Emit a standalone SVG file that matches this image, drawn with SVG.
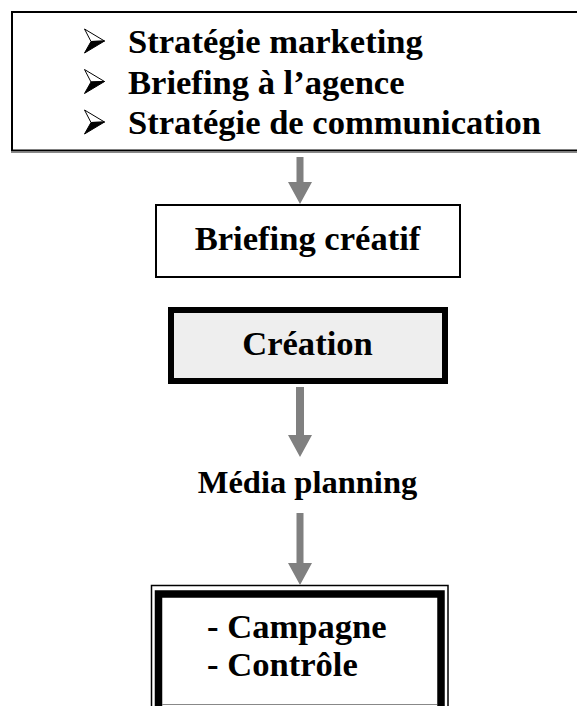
<svg xmlns="http://www.w3.org/2000/svg" width="577" height="706" viewBox="0 0 577 706">
  <style>
    .t { font-family: "Liberation Serif", "Times New Roman", serif; font-weight: bold; font-size: 34.6px; fill: #000; }
    .c { text-anchor: middle; }
    .arrow { fill: #808080; }
  </style>
  <defs>
    <g id="bullet">
      <polygon points="-9.5,-12 10.5,0 -3,0.5" fill="#fff" stroke="#000" stroke-width="1" stroke-linejoin="miter"/>
      <polygon points="-3,0.5 10.5,0 -9.5,12" fill="#000" stroke="#000" stroke-width="1"/>
    </g>
  </defs>
  <rect width="577" height="706" fill="#fff"/>

  <g id="node-top">
    <rect x="12" y="12" width="580" height="138.5" fill="#fff" stroke="#000" stroke-width="2"/>
    <line x1="11" y1="152.5" x2="577" y2="152.5" stroke="#888" stroke-width="1"/>
    <use href="#bullet" x="94" y="41"/>
    <use href="#bullet" x="94" y="81.5"/>
    <use href="#bullet" x="94" y="122"/>
    <text class="t" x="128" y="53">Stratégie marketing</text>
    <text class="t" x="128" y="93.5">Briefing à l’agence</text>
    <text class="t" x="128" y="134">Stratégie de communication</text>
  </g>

  <g id="node-briefing">
    <rect x="156" y="205" width="304" height="72" fill="#fff" stroke="#000" stroke-width="2"/>
    <text class="t c" x="307.5" y="250">Briefing créatif</text>
  </g>

  <g id="node-creation">
    <rect x="171" y="310" width="274" height="71" fill="#eeeeee" stroke="#000" stroke-width="6"/>
    <text class="t c" x="307.5" y="355">Création</text>
  </g>

  <g id="node-media">
    <text class="t c" x="307.5" y="493" style="font-size:32.5px">Média planning</text>
  </g>

  <g id="node-final">
    <rect x="151.5" y="585.5" width="296.5" height="200" fill="#fff" stroke="#000" stroke-width="1.5"/>
    <rect x="158.5" y="594" width="282.5" height="200" fill="#fff" stroke="#000" stroke-width="7.5"/>
    <line x1="162" y1="704.5" x2="437" y2="704.5" stroke="#888" stroke-width="1"/>
    <text class="t" x="207" y="638">- Campagne</text>
    <text class="t" x="207" y="676">- Contrôle</text>
  </g>

  <g id="connectors">
    <polygon class="arrow" points="296.5,157 303.5,157 303.5,182 312,182 300,204 288,182 296.5,182"/>
    <polygon class="arrow" points="296,387 304,387 304,435 312,435 300,457 288,435 296,435"/>
    <polygon class="arrow" points="296.5,513 303.5,513 303.5,563 312,563 300,585 288,563 296.5,563"/>
  </g>
</svg>
